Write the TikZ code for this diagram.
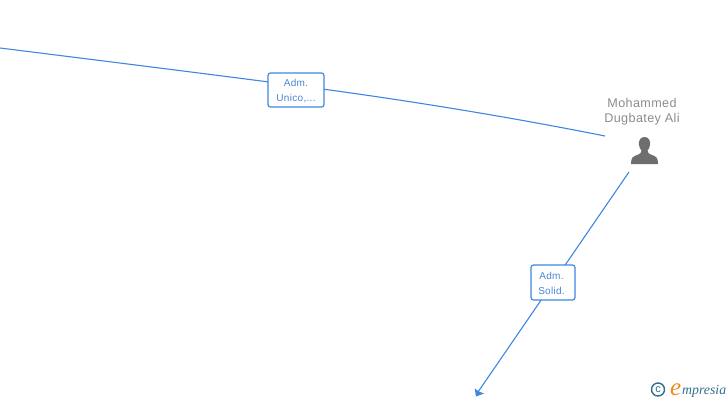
\documentclass[tikz,border=0pt]{standalone}
\usepackage{fontspec}
\setmainfont{Liberation Sans}[LetterSpace=3]
\newfontfamily\logofont{Liberation Serif}
\usetikzlibrary{backgrounds}
\definecolor{linkblue}{HTML}{3F86E0}
\definecolor{labelblue}{HTML}{4A84D8}
\definecolor{persongray}{HTML}{6E6E6E}
\definecolor{nametext}{HTML}{8C8C8C}
\definecolor{logoteal}{HTML}{2F6F8F}
\definecolor{logoorange}{HTML}{F08A1D}
\newcommand{\lowerline}[1]{\raisebox{0pt}[10pt]{#1}}
\tikzset{
  linkline/.style={draw=linkblue,line width=1.1pt},
  linkbox/.style={draw=linkblue,line width=1.2pt,rounded corners=2.5pt,fill=white,
    inner sep=0pt,align=center,text=labelblue,font=\fontsize{10}{15}\selectfont},
  personname/.style={text=nametext,align=center,font=\fontsize{12.6}{15}\selectfont,inner sep=0pt}
}
\begin{document}
\begin{tikzpicture}[x=1pt,y=-1pt]
\useasboundingbox (0,0) rectangle (728,400);
\coordinate (west) at (0,48);
\coordinate (bend) at (296,85.5);
\coordinate (pin) at (605,136);
\coordinate (pout) at (629,172);
\coordinate (target) at (478,392);
\node[linkbox,minimum width=56pt,minimum height=34pt] (unico) at (296,90) {\lowerline{Adm.}\\Unico,...};
\node[linkbox,minimum width=44pt,minimum height=35pt] (solid) at (553,282.5) {\hspace*{-3pt}\lowerline{Adm.}\\\hspace*{-3pt}Solid.};
\node[personname] (name) at (642,111.5) {Mohammed\\Dugbatey Ali};
\fill[persongray] (644.5,137) .. controls (640,137) and (638.6,141) .. (638.9,144.5)
  .. controls (639.1,147.5) and (640.5,149.5) .. (641.5,150.5)
  .. controls (641.5,153) and (640,154) .. (637,155)
  .. controls (632.5,156.5) and (631,158) .. (631,164)
  -- (658,164)
  .. controls (658,158) and (656.5,156.5) .. (652,155)
  .. controls (649,154) and (647.5,153) .. (647.5,150.5)
  .. controls (648.5,149.5) and (649.9,147.5) .. (650.1,144.5)
  .. controls (650.4,141) and (649,137) .. (644.5,137) -- cycle;
\begin{scope}[on background layer]
\draw[linkline] (west) .. controls (100,60.5) and (200,73) .. (bend) .. controls (400,99) and (510,117) .. (pin);
\draw[linkline] (pout) -- (target);
\end{scope}
\fill[linkblue] (476,396.5) -- (474.7,388.5) -- (479,391.5) -- (484,393.5) -- cycle;
\node[draw=logoteal,line width=1.4pt,circle,inner sep=0pt,minimum size=13pt,text=logoteal,font=\fontsize{11}{11}\selectfont] (copy) at (658,389.5) {c};
\node[anchor=base west,inner sep=0pt,text=logoorange,font=\logofont\itshape\fontsize{25}{25}\selectfont] (logoe) at (670,395) {e};
\node[anchor=base west,inner sep=0pt,text=logoteal,font=\logofont\itshape\fontsize{13.8}{13.8}\selectfont] (logot) at (682,394) {mpresia};
\end{tikzpicture}
\end{document}
